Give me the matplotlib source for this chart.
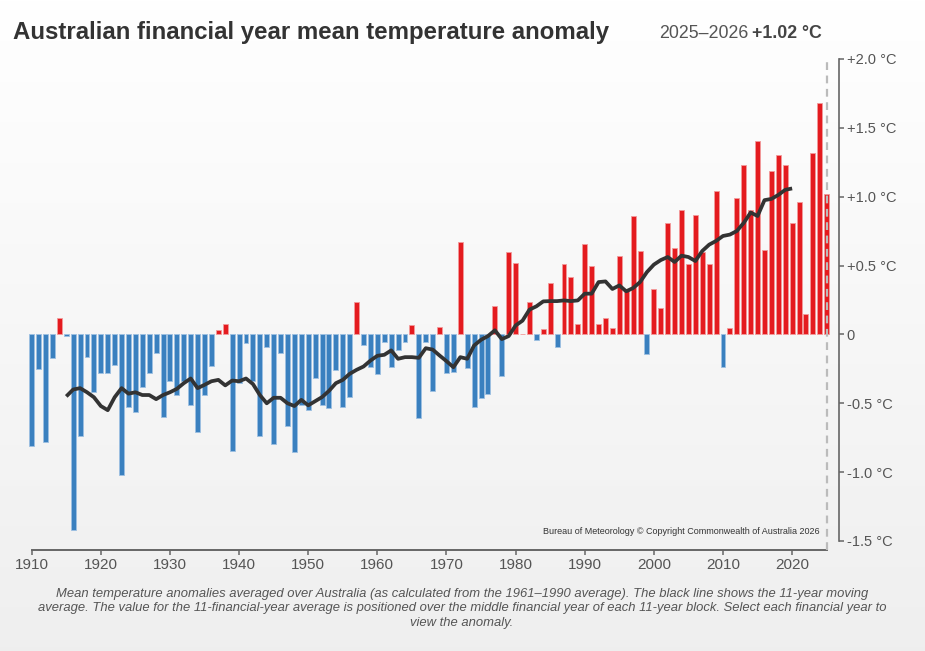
import matplotlib
matplotlib.use('Agg')
import matplotlib.pyplot as plt
import numpy as np

# ---------------- data ----------------
years = list(range(1910, 2026))
anomaly = [
    -0.81, -0.25, -0.78, -0.17, 0.12, -0.01, -1.42, -0.74, -0.165, -0.42,   # 1910-1919
    -0.28, -0.28, -0.22, -1.02, -0.53, -0.565, -0.38, -0.28, -0.135, -0.60,  # 1920-1929
    -0.34, -0.44, -0.335, -0.51, -0.705, -0.44, -0.23, 0.035, 0.075, -0.85,  # 1930-1939
    -0.35, -0.06, -0.335, -0.74, -0.09, -0.795, -0.135, -0.665, -0.855, -0.515,  # 1940-1949
    -0.55, -0.315, -0.515, -0.535, -0.26, -0.525, -0.455, 0.235, -0.08, -0.235,  # 1950-1959
    -0.285, -0.055, -0.235, -0.11, -0.055, 0.07, -0.605, -0.055, -0.41, 0.055,  # 1960-1969
    -0.28, -0.27, 0.67, -0.243, -0.524, -0.463, -0.434, 0.206, -0.303, 0.596,  # 1970-1979
    0.516, 0.0, 0.238, -0.04, 0.036, 0.37, -0.092, 0.51, 0.417, 0.075,       # 1980-1989
    0.66, 0.497, 0.078, 0.119, 0.049, 0.567, 0.315, 0.858, 0.609, -0.141,    # 1990-1999
    0.327, 0.189, 0.807, 0.625, 0.907, 0.51, 0.87, 0.60, 0.51, 1.042,        # 2000-2009
    -0.24, 0.05, 0.989, 1.229, 0.902, 1.401, 0.616, 1.19, 1.30, 1.229,       # 2010-2019
    0.81, 0.958, 0.148, 1.321, 1.68, 1.02,                                    # 2020-2025
]
ma_years = list(range(1915, 2021))
ma_values = [
    -0.45, -0.40, -0.39, -0.42, -0.456,                                       # 1915-1919
    -0.52, -0.55, -0.456, -0.39, -0.43, -0.42, -0.44, -0.44, -0.47, -0.44,    # 1920-1929
    -0.42, -0.395, -0.354, -0.32, -0.39, -0.366, -0.34, -0.33, -0.37, -0.335, # 1930-1939
    -0.34, -0.32, -0.36, -0.44, -0.50, -0.46, -0.46, -0.50, -0.52, -0.475,    # 1940-1949
    -0.515, -0.485, -0.455, -0.41, -0.354, -0.33, -0.286, -0.257, -0.233, -0.19,  # 1950-1959
    -0.155, -0.148, -0.116, -0.177, -0.165, -0.165, -0.17, -0.10, -0.11, -0.153,  # 1960-1969
    -0.194, -0.238, -0.165, -0.177, -0.08, -0.039, -0.012, 0.03, -0.034, -0.012,  # 1970-1979
    0.065, 0.10, 0.18, 0.204, 0.24, 0.242, 0.242, 0.247, 0.242, 0.247,        # 1980-1989
    0.296, 0.296, 0.38, 0.385, 0.33, 0.356, 0.313, 0.337, 0.38, 0.453,        # 1990-1999
    0.507, 0.54, 0.562, 0.526, 0.572, 0.562, 0.533, 0.606, 0.652, 0.679,      # 2000-2009
    0.715, 0.725, 0.751, 0.81, 0.885, 0.86, 0.975, 0.984, 1.013, 1.05,        # 2010-2019
    1.06,                                                                      # 2020
]
x_ticks = list(range(1910, 2021, 10))
y_ticks = [-1.5, -1.0, -0.5, 0.0, 0.5, 1.0, 1.5, 2.0]
y_tick_labels = ['-1.5 °C', '-1.0 °C', '-0.5 °C', '0', '+0.5 °C', '+1.0 °C', '+1.5 °C', '+2.0 °C']
title = 'Australian financial year mean temperature anomaly'
latest_period = '2025–2026'
latest_value = '+1.02 °C'
copyright_text = 'Bureau of Meteorology © Copyright Commonwealth of Australia 2026'
footer = ('Mean temperature anomalies averaged over Australia (as calculated from the 1961–1990 average). The black line shows the 11-year moving\n'
          'average. The value for the 11-financial-year average is positioned over the middle financial year of each 11-year block. Select each financial year to\n'
          'view the anomaly.')

# ---------------- style ----------------
FONT = ['Liberation Sans', 'DejaVu Sans']
plt.rcParams['font.family'] = FONT
RED = '#e41b1f'
RED_EDGE = '#f29a9b'
BLUE = '#3a80bf'
BLUE_EDGE = '#9dc0e2'
TXT = '#555555'
AX = '#666666'

W, H = 925, 651
fig = plt.figure(figsize=(W / 100, H / 100), dpi=100)

# background gradient
bg = fig.add_axes([0, 0, 1, 1], zorder=-10)
g = np.linspace(1.0, 0.937, 256).reshape(-1, 1)
bg.imshow(np.dstack([g, g, g]), aspect='auto', extent=[0, 1, 0, 1])
bg.set_axis_off()

def fx(px):
    return px / W

def fy(py):
    return 1 - py / H

left_px, right_px, top_px, bottom_px = 31.7, 826.7, 59.0, 549.7
px_per_unit = (541.0 - 59.0) / 3.5
ax = fig.add_axes([fx(left_px), fy(bottom_px), (right_px - left_px) / W, (bottom_px - top_px) / H])
ax.set_facecolor('none')
ax.set_xlim(years[0], years[-1])
ax.set_ylim(-1.5 - (bottom_px - 541.0) / px_per_unit, 2.0)

colors = [RED if v >= 0 else BLUE for v in anomaly]
edges = [RED_EDGE if v >= 0 else BLUE_EDGE for v in anomaly]
ax.bar(years, anomaly, width=0.72, color=colors, edgecolor=edges, linewidth=0.6,
       clip_on=False, zorder=2)
ax.plot(ma_years, ma_values, color='#333333', lw=2.7, solid_joinstyle='round',
        solid_capstyle='butt', zorder=4)

# dashed marker at latest year
ax.plot([years[-1], years[-1]], [ax.get_ylim()[0], 2.0], color='#bbbbbb', lw=1.6,
        ls=(0, (3.5, 2.5)), clip_on=False, zorder=3)

# axes styling
for s in ['left', 'top']:
    ax.spines[s].set_visible(False)
ax.spines['bottom'].set_color(AX)
ax.spines['bottom'].set_linewidth(1.4)
ax.spines['right'].set_position(('outward', 9))
ax.spines['right'].set_bounds(-1.5, 2.0)
ax.spines['right'].set_color(AX)
ax.spines['right'].set_linewidth(1.2)
ax.yaxis.tick_right()
ax.set_yticks(y_ticks)
ax.set_yticklabels(y_tick_labels)
ax.set_xticks(x_ticks)
ax.set_xticklabels([str(t) for t in x_ticks])
ax.tick_params(axis='y', direction='out', length=3.5, width=1.1, color=AX,
               labelcolor=TXT, labelsize=10.5, pad=2)
ax.tick_params(axis='x', direction='out', length=3.5, width=1.1, color=AX,
               labelcolor=TXT, labelsize=11, pad=2.5)

# texts
fig.text(fx(13), fy(32), title, fontsize=17.3, fontweight='bold', color='#333333',
         va='center', ha='left')
renderer = fig.canvas.get_renderer()
tv = fig.text(fx(822), fy(33), latest_value, fontsize=12.8, fontweight='bold',
              color='#444444', va='center', ha='right')
bb = tv.get_window_extent(renderer=renderer)
fig.text(bb.x0 / W - 4 / W, fy(33), latest_period, fontsize=12.8, color=TXT,
         va='center', ha='right')
fig.text(fx(820), fy(531), copyright_text, fontsize=6.5, color='#333333',
         va='center', ha='right')
fig.text(fx(462), fy(608.5), footer, fontsize=9.35, style='italic', color=TXT,
         va='center', ha='center', multialignment='center', linespacing=1.25)

fig.savefig('out.png', dpi=100)
